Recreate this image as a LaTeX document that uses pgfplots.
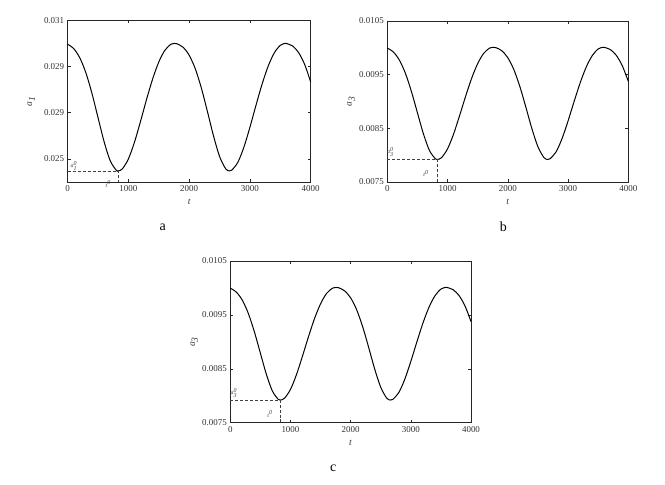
\documentclass[border=0pt]{standalone}
\usepackage{fontspec}
\setmainfont{Liberation Serif}
\usepackage{pgfplots}
\pgfplotsset{compat=1.18}
\usepackage{pgfplotstable}

% t, a_1 (panel a), a_3 (panels b and c)
\pgfplotstableread{
t     a        b
0     0.029964 0.009996
100   0.029771 0.009923
200   0.029371 0.009772
300   0.028722 0.009526
400   0.027827 0.009187
500   0.026777 0.008790
600   0.025738 0.008396
700   0.024919 0.008086
800   0.024507 0.007930
832   0.024480 0.007920
900   0.024568 0.007953
1000  0.025004 0.008118
1100  0.025730 0.008393
1200  0.026637 0.008737
1300  0.027592 0.009098
1400  0.028475 0.009433
1500  0.029198 0.009706
1600  0.029704 0.009898
1700  0.029965 0.009997
1752  0.030000 0.010010
1800  0.029983 0.010004
1900  0.029832 0.009946
2000  0.029487 0.009816
2100  0.028903 0.009595
2200  0.028070 0.009279
2300  0.027052 0.008894
2400  0.025996 0.008494
2500  0.025105 0.008157
2600  0.024573 0.007955
2660  0.024480 0.007920
2700  0.024511 0.007932
2800  0.024848 0.008059
2900  0.025504 0.008308
3000  0.026374 0.008637
3100  0.027327 0.008998
3200  0.028240 0.009344
3300  0.029016 0.009637
3400  0.029587 0.009853
3500  0.029918 0.009979
3580  0.030000 0.010010
3600  0.029997 0.010009
3700  0.029891 0.009969
3800  0.029606 0.009861
3900  0.029093 0.009667
4000  0.028326 0.009376
}\curves

\tikzset{
  curve/.style={black, line width=1.0pt, smooth},
  guide/.style={black!75, densely dashed, line width=0.5pt},
  note/.style={font=\fontsize{6}{7}\selectfont, text=black!75},
}

\pgfplotsset{
  panel/.style={
    scale only axis,
    anchor=south west,
    clip=false,
    scaled x ticks=false,
    scaled y ticks=false,
    axis line style={line width=0.8pt, black!85},
    xmin=0, xmax=4000,
    xtick={0,1000,2000,3000,4000},
    xticklabels={0,1000,2000,3000,4000},
    tick align=inside,
    major tick length=3bp,
    tick style={black!85, line width=0.6pt},
    tick label style={font=\fontsize{9}{10}\selectfont, text=black!80},
    xlabel={\textit{t}},
    xlabel style={at={(axis description cs:0.5,-0.122)}, anchor=center, font=\fontsize{9.5}{10}\selectfont, text=black!80},
    ylabel style={at={(axis description cs:-0.15,0.5)}, anchor=center, rotate=0, font=\fontsize{9.5}{10}\selectfont, text=black!80},
  },
}

\begin{document}
\begin{tikzpicture}
\path[use as bounding box] (0,0) rectangle (665bp,485bp);

% panel a
\begin{axis}[panel,
  at={(67.7bp,303bp)}, width=243bp, height=161.7bp,
  ymin=0.024, ymax=0.031,
  ytick={0.025,0.027,0.029,0.031},
  yticklabels={0.025,0.029,0.029,0.031},
  ylabel={$\textit{a}_{\textit{1}}$}]
\addplot[curve] table[x=t, y=a] {\curves};
\addplot[guide] coordinates {(0,0.02448) (832,0.02448) (832,0.024)};
\node[note] at (axis cs:100,0.02469) {$\textit{a}^{\textit{0}}_{\textit{1}}$};
\node[note] at (axis cs:668,0.02392) {$\textit{t}^{\textit{0}}$};
\end{axis}

% panel b
\begin{axis}[panel,
  at={(387.3bp,303bp)}, width=241bp, height=161bp,
  ymin=0.0075, ymax=0.0105,
  ytick={0.0075,0.0085,0.0095,0.0105},
  yticklabels={0.0075,0.0085,0.0095,0.0105},
  ylabel={$\textit{a}_{\textit{3}}$}]
\addplot[curve] table[x=t, y=b] {\curves};
\addplot[guide] coordinates {(0,0.00792) (836,0.00792) (836,0.0075)};
\node[note] at (axis cs:50,0.00806) {$\textit{a}^{\textit{0}}_{\textit{3}}$};
\node[note] at (axis cs:642,0.00766) {$\textit{t}^{\textit{0}}$};
\end{axis}

% panel c
\begin{axis}[panel,
  at={(230.3bp,62.3bp)}, width=240.7bp, height=161.7bp,
  ymin=0.0075, ymax=0.0105,
  ytick={0.0075,0.0085,0.0095,0.0105},
  yticklabels={0.0075,0.0085,0.0095,0.0105},
  ylabel={$\textit{a}_{\textit{3}}$}]
\addplot[curve] table[x=t, y=b] {\curves};
\addplot[guide] coordinates {(0,0.00792) (836,0.00792) (836,0.0075)};
\node[note] at (axis cs:60,0.00805) {$\textit{a}^{\textit{0}}_{\textit{3}}$};
\node[note] at (axis cs:660,0.00766) {$\textit{t}^{\textit{0}}$};
\end{axis}

\node[font=\fontsize{14}{16}\selectfont] at (162.7bp,258bp) {a};
\node[font=\fontsize{14}{16}\selectfont] at (503.3bp,258bp) {b};
\node[font=\fontsize{14}{16}\selectfont] at (333.3bp,17bp) {c};
\end{tikzpicture}
\end{document}
